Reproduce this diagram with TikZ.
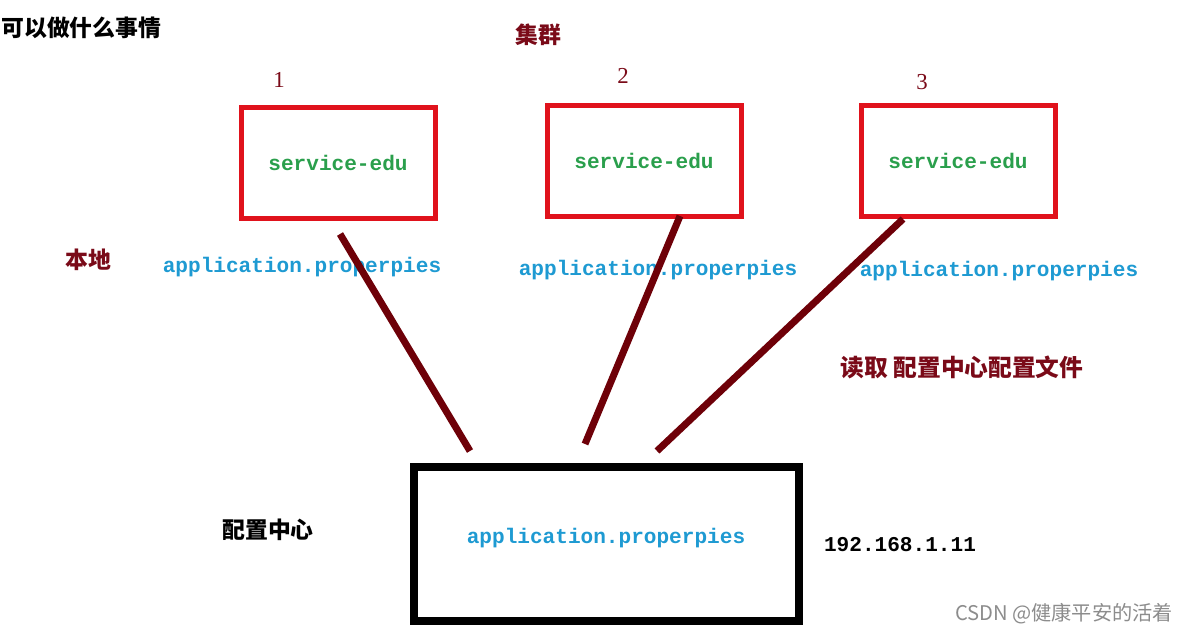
\documentclass[tikz,border=0pt]{standalone}
\usepackage{fontspec}
\setmonofont{Liberation Mono}
\setmainfont{Liberation Serif}
\newfontfamily\cjk{Noto Sans CJK SC}
\usetikzlibrary{positioning, calc}
\definecolor{boxred}{HTML}{E0121C}
\definecolor{linered}{HTML}{6E0008}
\definecolor{labred}{HTML}{7A0A18}
\definecolor{fileblue}{HTML}{1E9AD2}
\definecolor{svcgreen}{HTML}{2A9F4C}
\begin{document}
\begin{tikzpicture}[
    x=0.2mm, y=-0.2mm,
    svcbox/.style={rectangle, draw=boxred, line width=1mm, minimum width=38.8mm, minimum height=22.2mm, font=\fontsize{12}{14}\selectfont\ttfamily\bfseries, text=svcgreen},
    cfgbox/.style={rectangle, draw=black, line width=1.6mm, minimum width=77mm, minimum height=30.8mm, text depth=0.9em, font=\fontsize{12}{14}\selectfont\ttfamily\bfseries, text=fileblue},
    file/.style={font=\fontsize{12}{14}\selectfont\ttfamily\bfseries, text=fileblue},
    num/.style={font=\fontsize{13}{15}\selectfont, text=labred},
    cn/.style={font=\fontsize{13}{15}\selectfont\cjk\bfseries},
    link/.style={draw=linered, line width=1.4mm}
]
\useasboundingbox (0,0) rectangle (1185,634);

% Nodes
\node[cn, anchor=west, inner sep=0pt] (title) at (1,28) {可以做什么事情};
\node[cn, text=labred] (cluster) at (538,35) {集群};
\node[cn, text=labred] (local) at (88,260) {本地};

\node[svcbox] (s1) at (338,163) {service-edu};
\node[svcbox] (s2) at (644,161) {service-edu};
\node[svcbox] (s3) at (958,161) {service-edu};

\node[num] (n1) at (279,80) {1};
\node[num] (n2) at (623,76) {2};
\node[num] (n3) at (922,82) {3};

\node[file] (f1) at (302,267) {application.properpies};
\node[file] (f2) at (658,270) {application.properpies};
\node[file] (f3) at (999,271) {application.properpies};

\node[cfgbox] (cfg) at (606,544) {application.properpies};
\node[cn] (cfgname) at (268,530) {配置中心};
\node[font=\fontsize{12}{14}\selectfont\ttfamily\bfseries] (ip) at (900,545) {192.168.1.11};
\node[cn, font=\fontsize{13.5}{15}\selectfont\cjk\bfseries, text=labred] (read) at (962,367) {读取 配置中心配置文件};
\node[font=\fontsize{11.5}{14}\selectfont\cjk, text=black!45] (mark) at (1064,614) {CSDN @健康平安的活着};

% Lines
\coordinate (a1) at ($(s1.south)+(2,13)$);
\coordinate (a2) at ($(s2.south)+(36,-3)$);
\coordinate (a3) at ($(s3.south)+(-55,0)$);
\coordinate (b1) at ($(cfg.north)+(-136,-12)$);
\coordinate (b2) at ($(cfg.north)+(-21,-19)$);
\coordinate (b3) at ($(cfg.north)+(51,-12)$);
\draw[link] (a1) -- (b1);
\draw[link] (a2) -- (b2);
\draw[link] (a3) -- (b3);

\end{tikzpicture}
\end{document}
